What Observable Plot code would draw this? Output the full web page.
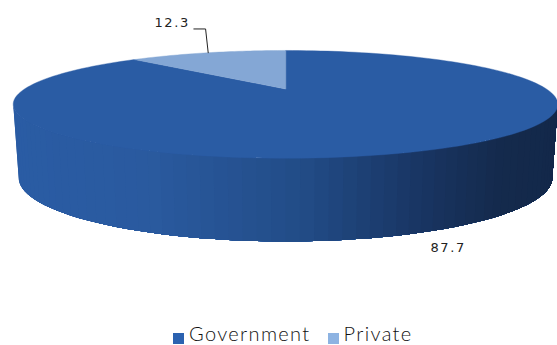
<!DOCTYPE html>
<html>
<head>
<meta charset="utf-8">
<script src="https://cdn.jsdelivr.net/npm/d3@7"></script>
<script src="https://cdn.jsdelivr.net/npm/@observablehq/plot@0.6"></script>
<style>
  html, body { margin: 0; background: #fff; overflow: hidden; }
  #chart svg text { letter-spacing: 1.6px; }
  #legend {
    height: 24px; line-height: 24px; display: flex; justify-content: flex-start; align-items: center;
    padding-left: 173px; font: 300 20px/24px Lato, sans-serif; letter-spacing: 1.35px; color: #111;
  }
  #legend span.key { width: 11px; height: 11px; margin-right: 5px; margin-top: 11px; }
  #legend span.name { margin-right: 17px; }
</style>
</head>
<body>
<div id="chart"></div>
<div id="legend"></div>
<script>
const categories = ["Government", "Private"];
const shares = [87.7, 12.3];
const labels = ["87.7", "12.3"];
const faceColors = ["#2A5CA4", "#84A7D5"];
const keyColors = ["#2B62B0", "#8DB3E2"];
const rampStops = [0, 0.25, 0.53, 0.75, 0.9, 1];
const rampColors = ["#2A5CA4", "#2A5A9F", "#224C87", "#193563", "#142A4C", "#13284A"];

const W = 557, H = 321;
const tilt = 0.285;                  // perspective strength of the disc
const unitX = 261, unitY = 49.5;     // pixels per projected unit
const bottomWidth = 0.98, bottomHeight = 1.186, drop = 1.42;
const rad = d => d * Math.PI / 180;

// Clockwise degrees from twelve o'clock, seen through the perspective.
const top3d = deg => {
  const X = Math.sin(rad(deg)), Y = Math.cos(rad(deg)), k = 1 + tilt * Y;
  return {x: X / k, y: Y / k};
};
const bottom3d = deg => {
  const p = top3d(deg);
  return {x: p.x * bottomWidth, y: p.y * bottomHeight - drop};
};

const privateSweep = shares[1] / d3.sum(shares) * 360;
const arc = (from, to, n = 160) =>
  d3.range(n + 1).map(i => top3d(from + (to - from) * i / n));

// Flat top face, one closed polygon per category.
const faces = [
  {name: categories[0], color: faceColors[0], pts: [{x: 0, y: 0}, ...arc(0, 360 - privateSweep)]},
  {name: categories[1], color: faceColors[1], pts: [{x: 0, y: 0}, ...arc(360 - privateSweep, 360, 40)]}
].flatMap(f => f.pts.map(p => ({...p, name: f.name, color: f.color})));

// Rim of the disc: strips shaded along a horizontal ramp, ordered left to right.
// Each strip runs on to the far end of the rim and the next paints over it, so no seams show.
const ramp = d3.scaleLinear().domain(rampStops).range(rampColors).interpolate(d3.interpolateRgb);
const edge = Math.acos(-tilt) * 180 / Math.PI;   // where the rim leaves the silhouette
const stripCount = 64;
const stripStep = (360 - 2 * edge) / stripCount;
const strips = d3.range(stripCount).flatMap(i => {
  const start = 360 - edge - stripStep * i;
  const sweep = d3.range(stripCount - i + 1).map(k => start - stripStep * k);
  const color = ramp((top3d(start - stripStep / 2).x + 1.04) / 2.08);
  return [...sweep.map(top3d), ...sweep.slice().reverse().map(bottom3d)]
    .map(p => ({...p, id: i, color}));
});

// Callouts hang off the rim at the middle of each slice.
const rimPrivate = top3d(360 - privateSweep / 2);
const rimGovernment = bottom3d((360 - privateSweep) / 2);
const leader = [
  {x: rimPrivate.x - 0.053, y: rimPrivate.y + 0.48},
  {x: rimPrivate.x - 0.008, y: rimPrivate.y + 0.48},
  {x: rimPrivate.x + 0.002, y: rimPrivate.y}
];

const labelStyle = {fontFamily: "DejaVu Sans, sans-serif", fontSize: 13, fill: "#222"};

const chart = Plot.plot({
  width: W, height: H, margin: 0,
  x: {domain: [-285 / unitX, (W - 285) / unitX], range: [0, W], axis: null},
  y: {domain: [88.5 / unitY, (88.5 - H) / unitY], range: [0, H], axis: null},
  color: {type: "identity"},
  style: {background: "#fff"},
  marks: [
    Plot.line(strips, {x: "x", y: "y", z: "id", fill: "color", stroke: "none", curve: "linear-closed"}),
    Plot.line(faces, {x: "x", y: "y", z: "name", fill: "color", stroke: "color", strokeWidth: 0.4, curve: "linear-closed"}),
    Plot.line(leader, {x: "x", y: "y", stroke: "#222", strokeWidth: 1}),
    Plot.text([labels[1]], {x: leader[0].x, y: leader[0].y, text: d => d, dx: -4, dy: -6, textAnchor: "end", ...labelStyle}),
    Plot.text([labels[0]], {x: rimGovernment.x, y: rimGovernment.y, text: d => d, dx: 14, dy: 15, textAnchor: "start", ...labelStyle})
  ]
});
document.getElementById("chart").append(chart);
chart.style.display = "block";

const legend = d3.select("#legend");
categories.forEach((c, i) => {
  legend.append("span").attr("class", "key").style("background", keyColors[i]);
  legend.append("span").attr("class", "name").text(c);
});
</script>
</body>
</html>
